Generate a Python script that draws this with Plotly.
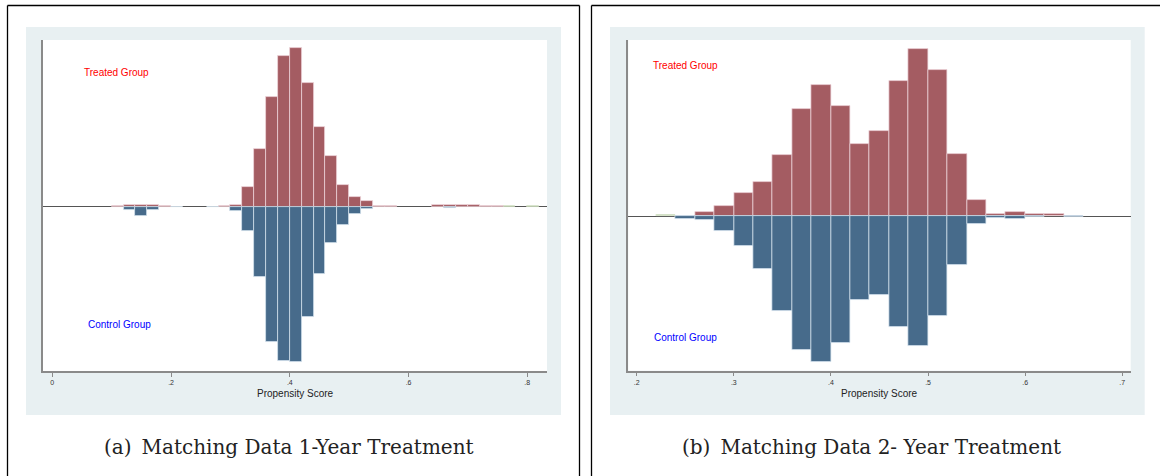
import plotly.graph_objects as go

W, H = 1160, 476

# ---------------- data: panel (a) 1-year treatment ----------------
bins_a = [0.11, 0.13, 0.15, 0.17, 0.19, 0.21, 0.23, 0.25, 0.27, 0.29, 0.31, 0.33,
          0.35, 0.37, 0.39, 0.41, 0.43, 0.45, 0.47, 0.49, 0.51, 0.53, 0.55, 0.57,
          0.59, 0.61, 0.63, 0.65, 0.67, 0.69, 0.71, 0.73, 0.75, 0.77, 0.79, 0.81]
treated_a = [0.06, 0.12, 0.12, 0.08, 0.06, 0.00, 0.00, 0.00, 0.00, 0.06, 0.12, 1.20,
             3.48, 6.56, 9.04, 9.50, 7.44, 4.80, 3.06, 1.28, 0.60, 0.32, 0.06, 0.06,
             0.00, 0.00, 0.00, 0.08, 0.12, 0.12, 0.08, 0.06, 0.06, 0.00, 0.00, 0.00]
control_a = [0.00, 0.20, 0.56, 0.20, 0.00, 0.04, 0.00, 0.00, 0.04, 0.00, 0.26, 1.46,
             4.24, 8.12, 9.24, 9.34, 6.60, 4.02, 2.20, 1.10, 0.44, 0.14, 0.00, 0.00,
             0.00, 0.00, 0.00, 0.00, 0.06, 0.00, 0.00, 0.00, 0.00, 0.00, 0.00, 0.00]
other_bins_a = [0.77, 0.81]
other_a = [0.06, 0.06]
ticks_a = [0, 0.2, 0.4, 0.6, 0.8]
ticklabels_a = ["0", ".2", ".4", ".6", ".8"]

# ---------------- data: panel (b) 2-year treatment ----------------
bins_b = [0.23, 0.25, 0.27, 0.29, 0.31, 0.33, 0.35, 0.37, 0.39, 0.41, 0.43,
          0.45, 0.47, 0.49, 0.51, 0.53, 0.55, 0.57, 0.59, 0.61, 0.63, 0.65]
treated_b = [0.00, 0.00, 0.16, 0.39, 0.91, 1.35, 2.43, 4.28, 5.25, 4.39, 2.87,
             3.40, 5.39, 6.69, 5.85, 2.48, 0.65, 0.08, 0.16, 0.08, 0.08, 0.00]
control_b = [0.00, 0.12, 0.15, 0.58, 1.18, 2.11, 3.80, 5.34, 5.84, 5.07, 3.35,
             3.15, 4.43, 5.20, 3.99, 1.95, 0.32, 0.06, 0.11, 0.03, 0.00, 0.04]
other_bins_b = [0.23]
other_b = [0.03]
ticks_b = [0.2, 0.3, 0.4, 0.5, 0.6, 0.7]
ticklabels_b = [".2", ".3", ".4", ".5", ".6", ".7"]

RED = "#a45c62"
BLUE = "#476b8b"
GREEN = "#7f9a5a"
BG = "#e8f0f2"
FONT = "Liberation Sans, Arial, sans-serif"


def px(x):
    return x / W


def py(y):
    return 1 - y / H


def nonzero(xs, ys, sign=1):
    pairs = [(x, sign * y) for x, y in zip(xs, ys) if y > 0]
    return [p[0] for p in pairs], [p[1] for p in pairs]


fig = go.Figure()

for bins, tr, ct, ob, ov, xa, ya in [
    (bins_a, treated_a, control_a, other_bins_a, other_a, "x", "y"),
    (bins_b, treated_b, control_b, other_bins_b, other_b, "x2", "y2"),
]:
    for xs_, ys_, sign, col, lc in [
        (bins, tr, 1, RED, "rgba(240,215,220,0.9)"),
        (bins, ct, -1, BLUE, "rgba(215,228,240,0.9)"),
        (ob, ov, 1, GREEN, "rgba(225,235,215,0.9)"),
    ]:
        bx, by = nonzero(xs_, ys_, sign)
        fig.add_trace(go.Bar(x=bx, y=by, width=0.02, xaxis=xa, yaxis=ya,
                             marker=dict(color=col, line=dict(color=lc, width=0.8)),
                             showlegend=False, hoverinfo="skip"))

axis_common = dict(showline=True, linecolor="#8a8a8a", linewidth=1.5, showgrid=False,
                   mirror=False)

fig.update_layout(
    width=W, height=H, margin=dict(l=0, r=0, t=0, b=0),
    paper_bgcolor="white", plot_bgcolor="white", barmode="overlay", bargap=0,
    xaxis=dict(domain=[px(43), px(547)], range=[-0.0157, 0.8332], anchor="y",
               tickvals=ticks_a, ticktext=ticklabels_a, ticks="outside", ticklen=4,
               tickcolor="#8a8a8a", tickwidth=1, zeroline=False,
               tickfont=dict(family=FONT, size=7, color="#333"), **axis_common),
    yaxis=dict(domain=[py(371), py(40)], range=[-9.86, 10.0], anchor="x",
               showticklabels=False, ticks="", layer="above traces", **axis_common,
               zeroline=True, zerolinecolor="#555555", zerolinewidth=1),
    xaxis2=dict(domain=[px(628.3), px(1130.7)], range=[0.1913, 0.7087], anchor="y2",
                tickvals=ticks_b, ticktext=ticklabels_b, ticks="outside", ticklen=4,
                tickcolor="#8a8a8a", tickwidth=1, zeroline=False,
                tickfont=dict(family=FONT, size=7, color="#333"), **axis_common),
    yaxis2=dict(domain=[py(370.7), py(40)], range=[-6.18, 7.05], anchor="x2",
                showticklabels=False, ticks="", layer="above traces", **axis_common,
                zeroline=True, zerolinecolor="#555555", zerolinewidth=1),
)

shapes = []
# light bluish-gray graph regions with white plot regions on top
for (x0, x1), (p0, p1, pt, pb) in zip([(26, 561), (610, 1144.7)],
                                      [(43, 547, 40, 371), (628.3, 1130.7, 40, 370.7)]):
    shapes.append(dict(type="rect", xref="paper", yref="paper", x0=px(x0), x1=px(x1),
                       y0=py(415), y1=py(27), fillcolor=BG, line=dict(width=0), layer="below"))
    shapes.append(dict(type="rect", xref="paper", yref="paper", x0=px(p0), x1=px(p1),
                       y0=py(pb), y1=py(pt), fillcolor="white", line=dict(width=0), layer="below"))
# outer frames
frame = dict(color="black", width=1.3)
for (xa0, ya0, xa1, ya1) in [
    (7.5, 5.5, 579.5, 5.5), (7.5, 5.5, 7.5, 480), (579.5, 5.5, 579.5, 480),
    (591.5, 5.5, 1165, 5.5), (591.5, 5.5, 591.5, 480),
]:
    shapes.append(dict(type="line", xref="paper", yref="paper", x0=px(xa0), x1=px(xa1),
                       y0=py(ya0), y1=py(ya1), line=frame))
fig.update_layout(shapes=shapes)

ann = []
for x, y, t, c in [(82, 72.3, "Treated Group", "#ff0000"), (86, 324, "Control Group", "#0000ff"),
                   (651, 65.7, "Treated Group", "#ff0000"), (652.3, 337.3, "Control Group", "#0000ff")]:
    ann.append(dict(xref="paper", yref="paper", x=px(x), y=py(y), text=t, showarrow=False,
                    xanchor="left", yanchor="middle", font=dict(family=FONT, size=10, color=c)))
for x, t in [(295, "Propensity Score"), (879, "Propensity Score")]:
    ann.append(dict(xref="paper", yref="paper", x=px(x), y=py(393.5), text=t, showarrow=False,
                    xanchor="center", yanchor="middle", font=dict(family=FONT, size=10, color="#222")))
for x, t in [(289, "(a)\u2002Matching Data 1-Year Treatment"),
             (871.5, "(b)\u2002Matching Data 2- Year Treatment")]:
    ann.append(dict(xref="paper", yref="paper", x=px(x), y=py(447), text=t, showarrow=False,
                    xanchor="center", yanchor="middle",
                    font=dict(family="DejaVu Serif, serif", size=20, color="#222")))
fig.update_layout(annotations=ann)

fig.write_html("out.html")
